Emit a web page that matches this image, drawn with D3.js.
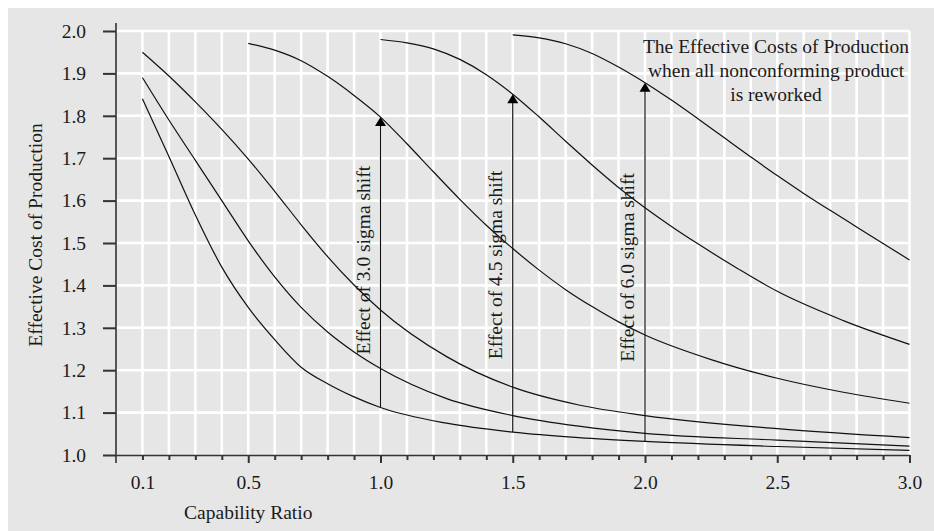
<!DOCTYPE html>
<html>
<head>
<meta charset="utf-8">
<script src="https://cdn.jsdelivr.net/npm/d3@7"></script>
<style>
  body { margin: 0; background: #fff; }
  svg text { font-family: "Liberation Serif", "DejaVu Serif", serif; fill: #1a1a1a; }
</style>
</head>
<body>
<div id="chart"></div>
<script>
// capability ratio (x) and effective cost (y) for each curve
const ratioLow = [0.1, 0.2, 0.3, 0.4, 0.5, 0.6, 0.7, 0.8, 0.9, 1.0, 1.25, 1.5, 1.75, 2.0, 2.5, 3.0];
const costA = [1.84, 1.704, 1.566, 1.443, 1.348, 1.272, 1.207, 1.168, 1.137, 1.112, 1.075, 1.054, 1.041, 1.032, 1.02, 1.011];
const costB = [1.89, 1.79, 1.695, 1.6, 1.505, 1.42, 1.348, 1.29, 1.243, 1.204, 1.133, 1.093, 1.068, 1.051, 1.035, 1.021];
const costC = [1.95, 1.894, 1.833, 1.768, 1.698, 1.622, 1.543, 1.468, 1.401, 1.342, 1.232, 1.16, 1.118, 1.093, 1.062, 1.041];

const ratioD = [0.5, 0.6, 0.7, 0.8, 0.9, 1.0, 1.1, 1.2, 1.3, 1.4, 1.5, 1.6, 1.7, 1.8, 1.9, 2.0, 2.25, 2.5, 2.75, 3.0];
const costD = [1.971, 1.955, 1.93, 1.893, 1.848, 1.797, 1.734, 1.668, 1.603, 1.542, 1.487, 1.436, 1.39, 1.35, 1.314, 1.283, 1.225, 1.181, 1.148, 1.122];

const ratioE = [1.0, 1.1, 1.2, 1.3, 1.4, 1.5, 1.6, 1.7, 1.8, 1.9, 2.0, 2.1, 2.2, 2.35, 2.5, 2.75, 3.0];
const costE = [1.98, 1.972, 1.958, 1.933, 1.897, 1.851, 1.797, 1.74, 1.684, 1.631, 1.583, 1.539, 1.498, 1.44, 1.386, 1.317, 1.261];

const ratioF = [1.5, 1.6, 1.7, 1.8, 1.9, 2.0, 2.1, 2.2, 2.3, 2.4, 2.5, 2.6, 2.7, 2.8, 2.9, 3.0];
const costF = [1.991, 1.984, 1.97, 1.947, 1.915, 1.878, 1.837, 1.793, 1.748, 1.703, 1.659, 1.617, 1.577, 1.538, 1.499, 1.46];

const xLabelTicks = [0.1, 0.5, 1.0, 1.5, 2.0, 2.5, 3.0];
const yTicks = [1.0, 1.1, 1.2, 1.3, 1.4, 1.5, 1.6, 1.7, 1.8, 1.9, 2.0];

// shift arrows: from the lowest curve up to the curve that starts at the shift
const arrowRatios = [1.0, 1.5, 2.0];
const arrowLabels = ["Effect of 3.0 sigma shift", "Effect of 4.5 sigma shift", "Effect of 6.0 sigma shift"];
const arrowLabelBase = [1.237, 1.226, 1.22];

const titleLines = ["The Effective Costs of Production", "when all nonconforming product", "is reworked"];

const outerWidth = 934;
const outerHeight = 531;
const fontSize = "19.5px";

const svg = d3.select("#chart").append("svg")
  .attr("width", outerWidth)
  .attr("height", outerHeight);

// grey panel
svg.append("rect")
  .attr("x", 8).attr("y", 8)
  .attr("width", outerWidth - 8).attr("height", outerHeight - 8)
  .attr("fill", "#e6e6e6");

const x = d3.scaleLinear().domain([0, 3]).range([116, 909.5]);
const y = d3.scaleLinear().domain([1, 2]).range([455, 31]);

const xGrid = d3.range(1, 31).map(i => i / 10);

//white grid
svg.append("g").selectAll("line.h")
  .data(yTicks.slice(1)).enter().append("line")
  .attr("x1", x(0)).attr("x2", x(3))
  .attr("y1", d => y(d)).attr("y2", d => y(d))
  .attr("stroke", "#fff").attr("stroke-width", 2.6);
svg.append("g").selectAll("line.v")
  .data(xGrid).enter().append("line")
  .attr("x1", d => x(d)).attr("x2", d => x(d))
  .attr("y1", y(2)).attr("y2", y(1))
  .attr("stroke", "#fff").attr("stroke-width", 2.6);

// axes
const isLabel = d => xLabelTicks.some(v => Math.abs(v - d) < 1e-9);
const isMajor = d => Math.abs(d * 2 - Math.round(d * 2)) < 1e-9;

const xAxis = d3.axisBottom(x)
  .tickValues(xGrid)
  .tickSize(5)
  .tickSizeOuter(0)
  .tickPadding(15)
  .tickFormat(d => isLabel(d) ? d3.format(".1f")(d) : "");
const xAxisGroup = svg.append("g")
  .attr("transform", "translate(0," + y(1) + ")")
  .call(xAxis);
xAxisGroup.selectAll(".tick line")
  .attr("y2", d => isMajor(d) ? 8 : 5)
  .attr("stroke", "#333").attr("stroke-width", 2);
xAxisGroup.select(".domain").attr("stroke", "#333").attr("stroke-width", 1.6);

const yAxis = d3.axisLeft(y)
  .tickValues(yTicks)
  .tickSize(13)
  .tickSizeOuter(0)
  .tickPadding(17)
  .tickFormat(d3.format(".1f"));
const yAxisGroup = svg.append("g")
  .attr("transform", "translate(" + x(0) + ",0)")
  .call(yAxis);
yAxisGroup.selectAll(".tick line").attr("stroke", "#333").attr("stroke-width", 2);
yAxisGroup.select(".domain").remove();
yAxisGroup.append("line")
  .attr("x1", 0).attr("x2", 0)
  .attr("y1", y(2) - 8).attr("y2", y(1) + 8)
  .attr("stroke", "#333").attr("stroke-width", 1.6);

svg.selectAll(".tick text")
  .attr("font-family", null)
  .style("font-size", fontSize)
  .attr("fill", "#1a1a1a");
xAxisGroup.attr("font-family", null).attr("font-size", null);
yAxisGroup.attr("font-family", null).attr("font-size", null);

// curves
const series = [
  {xs: ratioLow, ys: costA},
  {xs: ratioLow, ys: costB},
  {xs: ratioLow, ys: costC},
  {xs: ratioD, ys: costD},
  {xs: ratioE, ys: costE},
  {xs: ratioF, ys: costF}
];
const line = d3.line()
  .x(d => x(d[0]))
  .y(d => y(d[1]))
  .curve(d3.curveMonotoneX);

svg.append("g").selectAll("path")
  .data(series).enter().append("path")
  .attr("d", s => line(s.xs.map((v, i) => [v, s.ys[i]])))
  .attr("fill", "none")
  .attr("stroke", "#111")
  .attr("stroke-width", 1.2);

// arrows
function valueAt(xs, ys, r) {
  const i = xs.findIndex(v => Math.abs(v - r) < 1e-9);
  return ys[i];
}
const upper = [series[3], series[4], series[5]];
const arrows = arrowRatios.map((r, i) => ({
  r: r,
  from: valueAt(ratioLow, costA, r),
  to: valueAt(upper[i].xs, upper[i].ys, r),
  label: arrowLabels[i],
  base: arrowLabelBase[i]
}));

const arrowGroup = svg.append("g").selectAll("g")
  .data(arrows).enter().append("g");
arrowGroup.append("line")
  .attr("x1", d => x(d.r)).attr("x2", d => x(d.r))
  .attr("y1", d => y(d.from)).attr("y2", d => y(d.to) + 8)
  .attr("stroke", "#111").attr("stroke-width", 1.2);
arrowGroup.append("path")
  .attr("d", d => {
    const px = x(d.r), py = y(d.to);
    return "M" + px + "," + py + "L" + (px + 5.5) + "," + (py + 9) + "L" + (px - 5.5) + "," + (py + 9) + "Z";
  })
  .attr("fill", "#000");
arrowGroup.append("text")
  .attr("transform", d => "translate(" + (x(d.r) - 11) + "," + y(d.base) + ") rotate(-90)")
  .attr("text-anchor", "start")
  .style("font-size", fontSize)
  .text(d => d.label);

// title
svg.append("text")
  .attr("text-anchor", "middle")
  .style("font-size", fontSize)
  .selectAll("tspan")
  .data(titleLines).enter().append("tspan")
  .attr("x", 776)
  .attr("y", (d, i) => 53 + i * 24)
  .text(d => d);

// axis titles
svg.append("text")
  .attr("transform", "translate(41.5," + 235 + ") rotate(-90)")
  .attr("text-anchor", "middle")
  .style("font-size", fontSize)
  .text("Effective Cost of Production");
svg.append("text")
  .attr("x", x(0.5))
  .attr("y", 519)
  .attr("text-anchor", "middle")
  .style("font-size", fontSize)
  .text("Capability Ratio");
</script>
</body>
</html>
